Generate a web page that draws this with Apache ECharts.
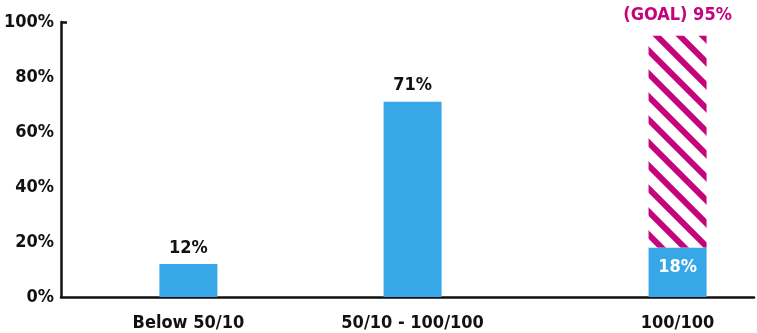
<!DOCTYPE html>
<html>
<head>
   <meta charset="utf-8">
   <style>
      html, body { margin: 0; padding: 0; width: 100%; height: 100%; overflow: hidden; background: #fff; }
   </style>
   <script src="https://cdn.jsdelivr.net/npm/echarts@6/dist/echarts.min.js"></script>
</head>
<body>
   <div id="container" style="width: 757px; height: 333px;"></div>
   <script>
      // data
      const categories = ['Below 50/10', '50/10 - 100/100', '100/100'];
      const actual = [12, 71, 18];
      const goal = [null, null, 95];
      const yTicks = [0, 20, 40, 60, 80, 100];

      // layout: the bars are not evenly spaced, so lay them on a finer slot grid
      const slotCount = 68;
      const slotOf = [12, 34, 60];

      const font = "'Liberation Sans Narrow', 'DejaVu Sans Condensed', Roboto, sans-serif";
      const blue = '#38a7e7';
      const pink = '#c4037c';

      // stripe pattern for the goal part
      const tile = document.createElement('canvas');
      tile.width = 23; tile.height = 23;
      const ctx = tile.getContext('2d');
      ctx.fillStyle = '#fff';
      ctx.fillRect(0, 0, 23, 23);
      ctx.strokeStyle = pink;
      ctx.lineWidth = 6;
      ctx.beginPath();
      for (let k = -1; k <= 1; k++) {
         ctx.moveTo(-5 + k * 23, -5);
         ctx.lineTo(28 + k * 23, 28);
      }
      ctx.stroke();

      const xData = new Array(slotCount).fill('');
      const actualData = new Array(slotCount).fill(null);
      const goalData = new Array(slotCount).fill(null);
      categories.forEach((c, i) => {
         const s = slotOf[i];
         xData[s] = c;
         const inside = goal[i] != null;
         actualData[s] = {
            value: actual[i],
            label: inside
               ? { position: 'insideTop', distance: 11, color: '#fff' }
               : { position: 'top', distance: 7, color: '#111' }
         };
         if (goal[i] != null) {
            goalData[s] = { value: goal[i] - actual[i], goal: goal[i] };
         }
      });

      const chart = echarts.init(document.getElementById('container'), null, { renderer: 'canvas' });
      chart.setOption({
         animation: false,
         grid: { left: 61, right: 3, top: 22, bottom: 36 },
         xAxis: {
            type: 'category',
            data: xData,
            axisLine: { lineStyle: { color: '#111', width: 2.5 } },
            axisTick: { show: false },
            axisLabel: {
               interval: 0, margin: 17, color: '#111',
               fontFamily: font, fontWeight: 'bold', fontSize: 18
            }
         },
         yAxis: {
            type: 'value', min: 0, max: 100, interval: 20,
            splitLine: { show: false },
            axisLine: { show: true, lineStyle: { color: '#111', width: 2.5 } },
            axisTick: {
               show: true, inside: true, length: 6, customValues: [100],
               lineStyle: { color: '#111', width: 2.5 }
            },
            axisLabel: {
               customValues: yTicks, formatter: '{value}%', margin: 7, color: '#111',
               fontFamily: font, fontWeight: 'bold', fontSize: 18
            }
         },
         series: [
            {
               type: 'bar', stack: 'a', barWidth: 58,
               itemStyle: { color: blue },
               data: actualData,
               label: {
                  show: true, formatter: '{c}%',
                  fontFamily: font, fontWeight: 'bold', fontSize: 18
               }
            },
            {
               type: 'bar', stack: 'a', barWidth: 58,
               itemStyle: { color: { image: tile, repeat: 'repeat' } },
               data: goalData,
               label: {
                  show: true, position: 'top', distance: 11, color: pink,
                  fontFamily: font, fontWeight: 'bold', fontSize: 18,
                  formatter: p => '(GOAL) ' + p.data.goal + '%'
               }
            }
         ]
      });
   </script>
</body>
</html>
